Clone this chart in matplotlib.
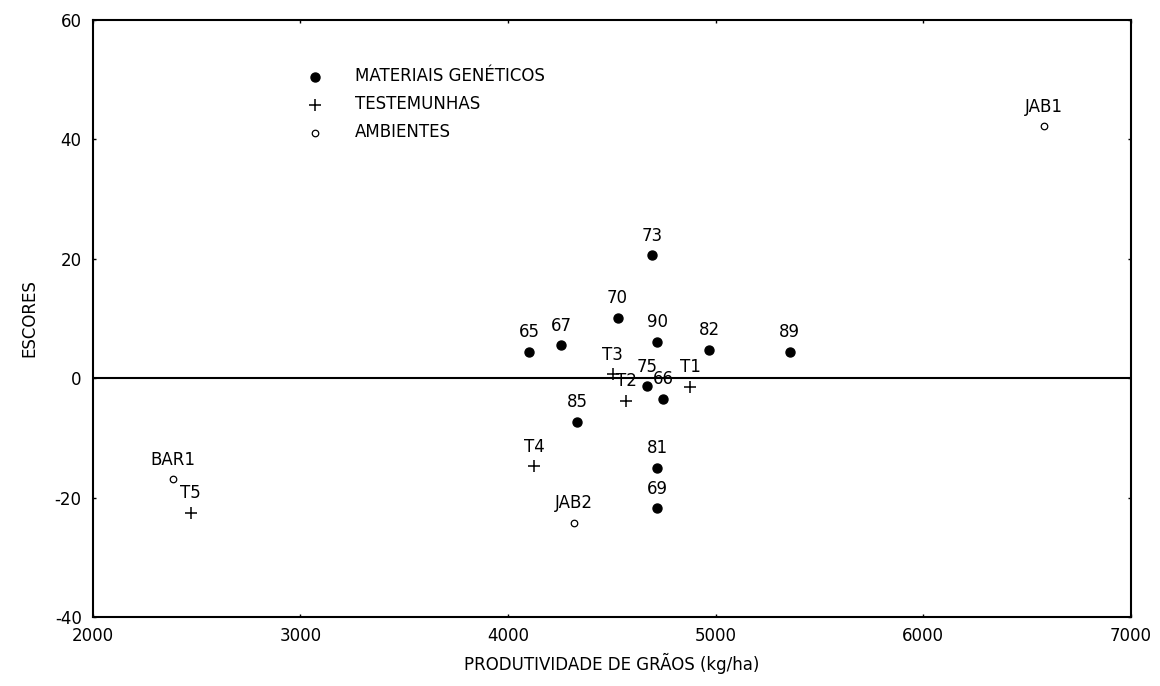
import matplotlib.pyplot as plt

plt.rcParams['font.family'] = ['DejaVu Sans']
plt.rcParams['axes.unicode_minus'] = False

# dados
mat_nomes = ['65', '67', '70', '73', '90', '82', '89', '75', '66', '85', '81', '69']
mat_x = [4103, 4257, 4527, 4692, 4719, 4970, 5357, 4671, 4748, 4334, 4719, 4719]
mat_y = [4.4, 5.5, 10.1, 20.6, 6.1, 4.8, 4.4, -1.3, -3.4, -7.3, -15.0, -21.8]

test_nomes = ['T1', 'T2', 'T3', 'T4', 'T5']
test_x = [4877, 4568, 4504, 4125, 2471]
test_y = [-1.4, -3.8, 0.7, -14.7, -22.5]

amb_nomes = ['BAR1', 'JAB1', 'JAB2']
amb_x = [2385, 6579, 4319]
amb_y = [-16.9, 42.2, -24.2]

fig = plt.figure(figsize=(11.6, 6.86), dpi=100)
ax = fig.add_axes([0.080, 0.1006, 0.895, 0.8702])

ax.axhline(0, color='black', lw=1.5, zorder=1)

ax.scatter(mat_x, mat_y, s=42, c='black', marker='o', label='MATERIAIS GENÉTICOS', zorder=3)
ax.scatter(test_x, test_y, s=75, c='black', marker='+', linewidths=1.1, label='TESTEMUNHAS', zorder=3)
ax.scatter(amb_x, amb_y, s=22, facecolors='white', edgecolors='black', marker='o',
           linewidths=0.9, label='AMBIENTES', zorder=3)

for nomes, xs, ys in [(mat_nomes, mat_x, mat_y), (test_nomes, test_x, test_y), (amb_nomes, amb_x, amb_y)]:
    for n, x, y in zip(nomes, xs, ys):
        ax.annotate(n, (x, y), xytext=(0, 14), textcoords='offset points',
                    ha='center', va='center', fontsize=12, zorder=4)

ax.set_xlim(2000, 7000)
ax.set_ylim(-40, 60)
ax.set_xticks([2000, 3000, 4000, 5000, 6000, 7000])
ax.set_yticks([-40, -20, 0, 20, 40, 60])
ax.tick_params(direction='in', length=2.5, width=1, top=True, right=True, labelsize=12)
ax.tick_params(axis='y', pad=8)
ax.tick_params(axis='x', pad=7)
for s in ax.spines.values():
    s.set_linewidth(1.5)

ax.set_xlabel('PRODUTIVIDADE DE GRÃOS (kg/ha)', fontsize=12, labelpad=6)
ax.set_ylabel('ESCORES', fontsize=12, labelpad=12)

ax.legend(loc='upper left', bbox_to_anchor=(0.198, 0.932), frameon=False, fontsize=12,
          handlelength=1.2, handletextpad=1.8, labelspacing=0.6, borderaxespad=0)

plt.savefig('out.png', dpi=100)
